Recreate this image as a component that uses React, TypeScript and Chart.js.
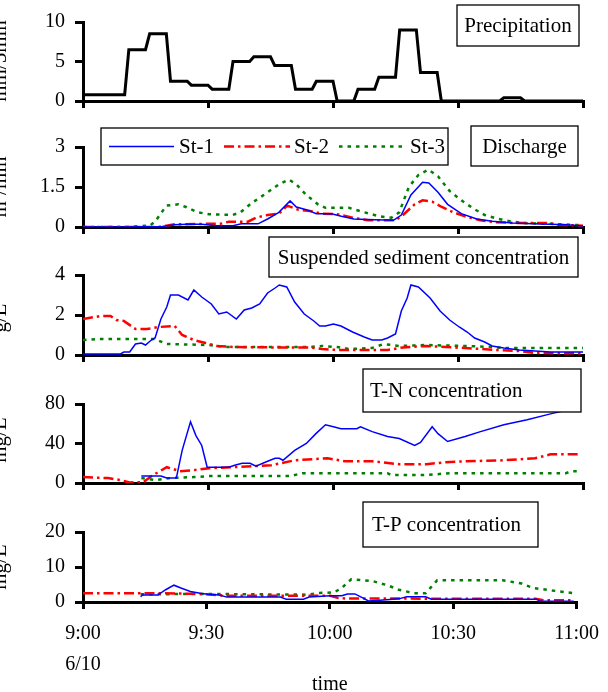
import React, { useEffect, useRef } from "react";
import { Chart, registerables } from "chart.js";

Chart.register(...registerables);

const SERIF = "'Liberation Serif', 'Times New Roman', serif";
const PAGE_W = 608;
const PAGE_H = 692;

// ---- axis / label data ----
const TIME_LABELS = ["9:00", "9:30", "10:00", "10:30", "11:00"]; // ticks every 30 min from 9:00
const DATE_LABEL = "6/10";
const X_TITLE = "time";
const STATIONS = ["St-1", "St-2", "St-3"];

// ---- Precipitation (mm/5min), one value per 5-minute interval from 9:00 ----
const precipitation = [0.8, 0.8, 6.5, 8.5, 2.5, 2.0, 1.5, 5.0, 5.6, 4.5, 1.5, 2.5, 0, 1.5, 3.0, 9.0, 3.6, 0, 0, 0, 0.4, 0, 0, 0];

// ---- series as [minutes after 9:00, value] ----
const dischargeSt1: [number, number][] = [[0, 0], [10, 0], [19, 0.02], [22, 0.08], [25, 0.1], [28.5, 0.1], [32, 0.05], [36, 0.05], [38, 0.12], [42, 0.12], [44.3, 0.3], [47, 0.55], [49.7, 0.98], [51.2, 0.75], [53.6, 0.65], [56, 0.5], [59.6, 0.5], [62, 0.4], [65, 0.3], [70, 0.27], [74.5, 0.25], [76.4, 0.45], [78.7, 1.2], [81.5, 1.68], [83, 1.65], [85.2, 1.3], [87.5, 0.85], [90.8, 0.5], [94.5, 0.3], [98.2, 0.22], [103, 0.15], [108, 0.12], [112, 0.1], [116, 0.08], [120, 0.04]];
const dischargeSt2: [number, number][] = [[0, 0], [18, 0], [20, 0.05], [22, 0.1], [30, 0.12], [33, 0.12], [35, 0.2], [39.6, 0.2], [41.5, 0.35], [44.3, 0.45], [47, 0.5], [49, 0.8], [51.7, 0.65], [54.5, 0.6], [57.3, 0.5], [61, 0.48], [64.7, 0.35], [68.4, 0.25], [75, 0.25], [76.8, 0.45], [79.6, 0.85], [81.5, 1.0], [83.8, 0.95], [86.1, 0.75], [88.9, 0.55], [91.7, 0.4], [95.4, 0.25], [99.2, 0.18], [103.8, 0.15], [112, 0.15], [114, 0.08], [120, 0.05]];
const dischargeSt3: [number, number][] = [[0, 0], [10.8, 0], [13, 0.03], [16, 0.05], [17.3, 0.2], [20, 0.8], [22.9, 0.85], [24.7, 0.75], [27.5, 0.55], [30.3, 0.48], [35.9, 0.45], [37.8, 0.55], [40.5, 0.9], [44.3, 1.3], [47, 1.6], [49.4, 1.78], [51.2, 1.6], [53.6, 1.2], [56.4, 0.85], [58.2, 0.72], [63.8, 0.72], [67.5, 0.55], [71.2, 0.4], [74, 0.35], [75.9, 0.55], [78.2, 1.5], [80.5, 1.95], [82.9, 2.15], [85.2, 1.9], [88, 1.35], [90.8, 1.0], [93.6, 0.7], [96.4, 0.45], [99.2, 0.32], [102.9, 0.2], [105.7, 0.15], [112, 0.12], [119.3, 0.07], [120, 0.05]];

const ssSt1: [number, number][] = [[0, 0.05], [9, 0.05], [9.8, 0.15], [11.2, 0.15], [12.6, 0.55], [14, 0.6], [15, 0.5], [16.4, 0.75], [17.3, 0.85], [18.7, 1.8], [20.1, 2.4], [21, 3.0], [22.9, 3.0], [25.2, 2.75], [26.6, 3.25], [28.5, 2.9], [30.8, 2.55], [32.6, 2.05], [34.5, 2.15], [36.8, 1.8], [38.7, 2.25], [40.5, 2.35], [42.4, 2.55], [44.3, 3.1], [46.1, 3.35], [47.1, 3.5], [48.9, 3.4], [50.8, 2.65], [53.1, 2.05], [55.4, 1.7], [56.8, 1.45], [58.2, 1.45], [60.1, 1.55], [61.9, 1.45], [64.7, 1.15], [67.5, 0.9], [69.4, 0.75], [71.7, 0.75], [73.1, 0.85], [75, 1.05], [76.4, 2.2], [77.8, 2.85], [78.7, 3.5], [80.5, 3.4], [83.3, 2.85], [85.7, 2.2], [88, 1.75], [90.3, 1.4], [92.2, 1.15], [94, 0.85], [96.4, 0.65], [98.2, 0.45], [101, 0.35], [104.7, 0.25], [108.5, 0.2], [112.2, 0.15], [120, 0.15]];
const ssSt2: [number, number][] = [[0, 1.8], [4.3, 1.95], [6.6, 1.95], [8, 1.75], [9.8, 1.7], [12.6, 1.3], [15.4, 1.3], [18.2, 1.4], [22, 1.45], [23.8, 1.0], [26.6, 0.75], [29.4, 0.6], [32.2, 0.45], [35.9, 0.4], [45.2, 0.38], [54.5, 0.38], [57.3, 0.3], [61, 0.25], [73.1, 0.25], [76.8, 0.38], [82.4, 0.45], [87, 0.4], [91.7, 0.35], [99.2, 0.25], [104.7, 0.2], [108.5, 0.1], [120, 0.08]];
const ssSt3: [number, number][] = [[0, 0.75], [4, 0.8], [17.3, 0.8], [20, 0.55], [30.3, 0.5], [34, 0.4], [54.5, 0.4], [57.3, 0.45], [61, 0.4], [63.8, 0.3], [69.4, 0.35], [72.2, 0.55], [75.9, 0.45], [82.4, 0.5], [91.7, 0.45], [98.2, 0.4], [101, 0.35], [120, 0.35]];

const tnSt1: [number, number][] = [[14, 7], [18.7, 7], [20.1, 5], [22.4, 5], [23.8, 33], [25.8, 62], [27.1, 48], [28.5, 38], [29.8, 16], [35, 16], [36.4, 18], [38.2, 20], [40.1, 20], [41.5, 17], [44.3, 22], [46.1, 25], [47.1, 25], [48, 23], [50.8, 33], [53.6, 40], [55.9, 50], [58.2, 59], [60.1, 57], [61.9, 55], [65.7, 55], [66.6, 57], [69.4, 52], [73.1, 47], [75.9, 45], [79.6, 38], [81, 41], [83.8, 57], [85.2, 50], [87.5, 42], [91.7, 47], [95.4, 52], [101, 59], [106.6, 64], [112.2, 70], [119.3, 77]];
const tnSt2: [number, number][] = [[0, 6], [6, 5], [8.9, 3], [11.2, 0.5], [14.5, 1], [16.8, 8], [20.1, 16], [23.3, 12], [26.6, 13], [30.3, 15], [35.9, 16], [40.5, 17], [45.2, 18], [50.8, 23], [58.7, 25], [62.9, 22], [69.4, 22], [75.9, 19], [82.4, 19], [87, 21], [91.7, 22], [101, 23], [108.5, 25], [112.2, 29], [119.3, 29]];
const tnSt3: [number, number][] = [[14, 5], [17.3, 3], [21, 5], [26.6, 6], [30.3, 7], [49.8, 7], [52.6, 10], [73.1, 10], [74, 8], [82.4, 8], [88, 10], [115.9, 10], [117.3, 12], [119.3, 12]];

const tpSt1: [number, number][] = [[14, 1.5], [14.5, 2], [18.2, 2], [20.1, 3.5], [22.1, 4.8], [23.8, 4], [26.1, 3], [28.5, 2.5], [30.3, 2.2], [33.1, 2], [35, 1.4], [48, 1.4], [49.4, 0.8], [53.6, 0.8], [55, 1.4], [60.1, 1.8], [62.9, 1.8], [64.3, 2.3], [66.1, 2.3], [68, 1.2], [69.4, 0.3], [72.2, 0.5], [76.8, 0.9], [78.7, 1.5], [83.3, 1.5], [84.7, 0.8], [110.3, 0.8], [111.2, 0.2], [119.3, 0.2]];
const tpSt2: [number, number][] = [[0, 2.5], [19.1, 2.5], [28.5, 2.3], [35, 1.8], [60.1, 1.8], [61.9, 1.2], [63.8, 1.0], [110, 0.9], [112, 0.5], [119.3, 0.5]];
const tpSt3: [number, number][] = [[14, 2.2], [30.3, 2.3], [54.5, 2.1], [57.3, 2.6], [61, 2.7], [62.9, 4], [65.2, 6.5], [70.3, 6.0], [74, 4.8], [76.8, 3.5], [80.5, 2.5], [83.3, 2.5], [86.1, 6.2], [102, 6.2], [106.6, 5.3], [109.4, 4.0], [119.3, 2.5]];

// ---- styles ----
const STATION_STYLES = [
  { borderColor: "#0000ff", borderWidth: 1.5, borderDash: [] as number[] },
  { borderColor: "#ff0000", borderWidth: 2.5, borderDash: [10, 4, 2.5, 4] },
  { borderColor: "#008000", borderWidth: 2.5, borderDash: [3.5, 5] },
];

const toPoints = (pairs: [number, number][]) => pairs.map(([x, y]) => ({ x, y }));

// each 5-minute total is held over its interval
const precipPoints = () => {
  const pts = [{ x: 0, y: precipitation[0] }];
  precipitation.forEach((v, k) => {
    pts.push({ x: k * 5 + 1, y: v });
    pts.push({ x: k * 5 + 5, y: v });
  });
  return pts;
};

const stationSets = (series: [number, number][][]) =>
  series.map((s, i) => ({
    label: STATIONS[i],
    data: toPoints(s),
    ...STATION_STYLES[i],
    pointRadius: 0,
    tension: 0,
    fill: false,
  }));

type Box = { x: number; y: number; w: number; h: number; text: string; textX?: number };

type PanelSpec = {
  top: number;
  height: number;
  plotTop: number;
  plotBottom: number;
  yMax: number;
  yStep: number;
  yTitle: string;
  yTitleY: number;
  box: Box;
  legend?: boolean;
  showX?: boolean;
  datasets: any[];
};

const PLOT_LEFT = 83;
const PLOT_RIGHT = 583;

const LEGEND_BOX = { x: 101, y: 128, w: 347, h: 37 };
const LEGEND_ITEMS = [
  { x1: 109, x2: 174, tx: 179 },
  { x1: 224, x2: 290, tx: 294 },
  { x1: 339, x2: 406, tx: 410 },
];

const PANELS: PanelSpec[] = [
  {
    top: 0, height: 127, plotTop: 21, plotBottom: 101, yMax: 10, yStep: 5,
    yTitle: "mm/5min", yTitleY: 61,
    box: { x: 457, y: 5, w: 122, h: 41, text: "Precipitation" },
    datasets: [{ label: "Precipitation", data: precipPoints(), borderColor: "#000", borderWidth: 3, pointRadius: 0, tension: 0, fill: false }],
  },
  {
    top: 113, height: 140, plotTop: 147, plotBottom: 227, yMax: 3, yStep: 1.5,
    yTitle: "m³/min", yTitleY: 187,
    box: { x: 471, y: 126, w: 107, h: 40, text: "Discharge" },
    legend: true,
    datasets: stationSets([dischargeSt1, dischargeSt2, dischargeSt3]),
  },
  {
    top: 234, height: 147, plotTop: 275, plotBottom: 355, yMax: 4, yStep: 2,
    yTitle: "g/L", yTitleY: 318,
    box: { x: 269, y: 237, w: 309, h: 40, text: "Suspended sediment concentration" },
    datasets: stationSets([ssSt1, ssSt2, ssSt3]),
  },
  {
    top: 362, height: 147, plotTop: 404, plotBottom: 483, yMax: 80, yStep: 40,
    yTitle: "mg/L", yTitleY: 440,
    box: { x: 363, y: 369, w: 218, h: 43, text: "T-N concentration", textX: 370 },
    datasets: stationSets([tnSt1, tnSt2, tnSt3]),
  },
  {
    top: 495, height: 200, plotTop: 532, plotBottom: 602, yMax: 20, yStep: 10,
    yTitle: "mg/L", yTitleY: 567,
    box: { x: 363, y: 502, w: 175, h: 45, text: "T-P concentration", textX: 372 },
    showX: true,
    datasets: stationSets([tpSt1, tpSt2, tpSt3]),
  },
];

function makeOverlay(spec: PanelSpec) {
  return {
    id: "overlay",
    afterDraw(chart: Chart) {
      const ctx = chart.ctx;
      const oy = spec.top;
      ctx.save();
      // y-axis title, cut off by the left edge as in the source figure
      ctx.fillStyle = "#000";
      ctx.font = `21px ${SERIF}`;
      ctx.translate(6, spec.yTitleY - oy);
      ctx.rotate(-Math.PI / 2);
      ctx.textAlign = "center";
      ctx.textBaseline = "alphabetic";
      ctx.fillText(spec.yTitle, 0, 0);
      ctx.restore();

      // boxed panel title
      const b = spec.box;
      ctx.save();
      ctx.fillStyle = "#fff";
      ctx.fillRect(b.x, b.y - oy, b.w, b.h);
      ctx.strokeStyle = "#000";
      ctx.lineWidth = 1.3;
      ctx.strokeRect(b.x, b.y - oy, b.w, b.h);
      ctx.fillStyle = "#000";
      ctx.font = `21px ${SERIF}`;
      ctx.textBaseline = "middle";
      if (b.textX !== undefined) {
        ctx.textAlign = "left";
        ctx.fillText(b.text, b.textX, b.y - oy + b.h / 2 + 1);
      } else {
        ctx.textAlign = "center";
        ctx.fillText(b.text, b.x + b.w / 2, b.y - oy + b.h / 2 + 1);
      }
      ctx.restore();

      if (spec.legend) {
        const L = LEGEND_BOX;
        ctx.save();
        ctx.fillStyle = "#fff";
        ctx.fillRect(L.x, L.y - oy, L.w, L.h);
        ctx.strokeStyle = "#000";
        ctx.lineWidth = 1.3;
        ctx.strokeRect(L.x, L.y - oy, L.w, L.h);
        const cy = L.y - oy + L.h / 2;
        chart.data.datasets.forEach((ds: any, i: number) => {
          const it = LEGEND_ITEMS[i];
          ctx.save();
          ctx.strokeStyle = ds.borderColor;
          ctx.lineWidth = ds.borderWidth;
          ctx.setLineDash(ds.borderDash || []);
          ctx.beginPath();
          ctx.moveTo(it.x1, cy);
          ctx.lineTo(it.x2, cy);
          ctx.stroke();
          ctx.restore();
          ctx.fillStyle = "#000";
          ctx.font = `21px ${SERIF}`;
          ctx.textAlign = "left";
          ctx.textBaseline = "middle";
          ctx.fillText(String(ds.label), it.tx, cy + 1);
        });
        ctx.restore();
      }
    },
  };
}

function Panel({ spec }: { spec: PanelSpec }) {
  const ref = useRef<HTMLCanvasElement>(null);
  useEffect(() => {
    const canvas = ref.current!;
    const xAxisHeight = spec.top + spec.height - spec.plotBottom;
    const chart = new Chart(canvas, {
      type: "line",
      data: { datasets: spec.datasets },
      options: {
        responsive: false,
        animation: false,
        devicePixelRatio: 1,
        events: [],
        layout: { padding: { left: 0, right: PAGE_W - PLOT_RIGHT, top: spec.plotTop - spec.top, bottom: 0 } },
        plugins: { legend: { display: false }, tooltip: { enabled: false }, title: { display: false } },
        scales: {
          x: {
            type: "linear",
            min: 0,
            max: 120,
            afterFit: (s: any) => { s.height = xAxisHeight; },
            border: { display: true, color: "#000", width: 3 },
            grid: { display: true, drawOnChartArea: false, drawTicks: true, tickLength: 7, color: "#000", lineWidth: 3 },
            ticks: {
              display: !!spec.showX,
              stepSize: 30,
              autoSkip: false,
              maxRotation: 0,
              padding: 9,
              color: "#000",
              font: { family: SERIF, size: 20, lineHeight: 1.55 },
              callback: (_v: any, i: number) => (i === 0 ? [TIME_LABELS[0], DATE_LABEL] : TIME_LABELS[i]),
            },
            title: spec.showX
              ? { display: true, text: X_TITLE, color: "#000", font: { family: SERIF, size: 20, lineHeight: 1 }, padding: { top: 0, bottom: 0 } }
              : { display: false },
          },
          y: {
            type: "linear",
            min: 0,
            max: spec.yMax,
            afterFit: (s: any) => { s.width = PLOT_LEFT; },
            border: { display: true, color: "#000", width: 3 },
            grid: { display: true, drawOnChartArea: false, drawTicks: true, tickLength: 8, color: "#000", lineWidth: 3 },
            ticks: {
              stepSize: spec.yStep,
              padding: 10,
              color: "#000",
              font: { family: SERIF, size: 20, lineHeight: 1.2 },
            },
          },
        },
      },
      plugins: [makeOverlay(spec)],
    } as any);
    return () => chart.destroy();
  }, [spec]);
  return (
    <canvas
      ref={ref}
      width={PAGE_W}
      height={spec.height}
      style={{ position: "absolute", left: 0, top: spec.top, width: PAGE_W, height: spec.height }}
    />
  );
}

export default function App() {
  return (
    <div
      style={{
        position: "absolute",
        left: 0,
        top: 0,
        width: PAGE_W,
        height: PAGE_H,
        overflow: "hidden",
        background: "#fff",
      }}
    >
      {PANELS.map((p, i) => (
        <Panel key={i} spec={p} />
      ))}
    </div>
  );
}
